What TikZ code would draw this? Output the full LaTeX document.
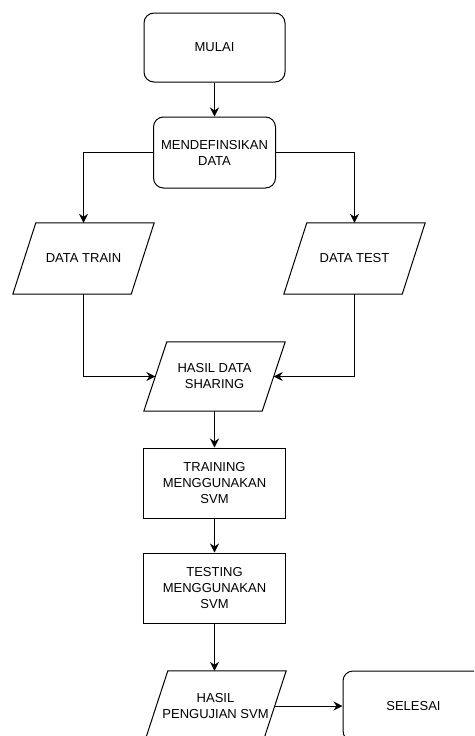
\documentclass[tikz,border=0pt]{standalone}
\usepackage{fontspec}
\setmainfont{Liberation Sans}
\usetikzlibrary{arrows.meta,calc}

% draws a right-leaning parallelogram around a rectangular text node
\newcommand\slantbox[2]{%
  \draw[line] ([xshift=-#2]#1.south west) -- ([xshift=#2]#1.north west)
    -- ([xshift=#2]#1.north east) -- ([xshift=-#2]#1.south east) -- cycle;}

\begin{document}
\begin{tikzpicture}[x=1pt,y=-1pt,
  line/.style={draw=black, line width=1pt},
  label/.style={font=\fontsize{13}{16}\selectfont, align=center, inner sep=0pt, text=black},
  term/.style={label, line, rounded corners=10pt},
  proc/.style={label, line},
  io/.style={label},
  arr/.style={line, -{Stealth[length=9pt,width=9pt,inset=3pt]}}]

\useasboundingbox (0,0) rectangle (474,736);
\fill[white] (0,0) rectangle (474,736);
\clip (0,0) rectangle (474,736);

% flow steps
\node[term, minimum width=141pt, minimum height=69pt] (start) at (214.5,47.5) {MULAI};
\node[term, minimum width=122pt, minimum height=71pt] (define) at (214.5,152.5) {MENDEFINSIKAN\\DATA};
\node[io, minimum width=118pt, minimum height=71pt] (train) at (83.5,258.5) {DATA TRAIN};
\node[io, minimum width=118pt, minimum height=71pt] (test) at (354.5,258.5) {DATA TEST};
\node[io, minimum width=118pt, minimum height=69pt] (share) at (214.5,376.5) {HASIL DATA\\SHARING};
\node[proc, minimum width=142pt, minimum height=70pt] (fit) at (214.5,483) {TRAINING\\MENGGUNAKAN\\SVM};
\node[proc, minimum width=142pt, minimum height=70pt] (eval) at (214.5,588) {TESTING\\MENGGUNAKAN\\SVM};
\node[io, minimum width=118pt, minimum height=70pt] (result) at (215.5,706) {HASIL\\PENGUJIAN SVM};
\node[term, minimum width=141pt, minimum height=70pt] (finish) at (413.5,706) {SELESAI};

\slantbox{train}{11.5pt}
\slantbox{test}{11.5pt}
\slantbox{share}{11.5pt}
\slantbox{result}{11.5pt}

% connectors
\draw[arr] (start.south) -- (define.north);
\draw[arr] (define.west) -| (train.north);
\draw[arr] (define.east) -| (test.north);
\draw[arr] (train.south) |- (share.west);
\draw[arr] (test.south) |- (share.east);
\draw[arr] (share.south) -- (fit.north);
\draw[arr] (fit.south) -- (eval.north);
\draw[arr] (eval.south) -- (eval.south |- result.north);
\draw[arr] (result.east) -- (finish.west);
\end{tikzpicture}
\end{document}
